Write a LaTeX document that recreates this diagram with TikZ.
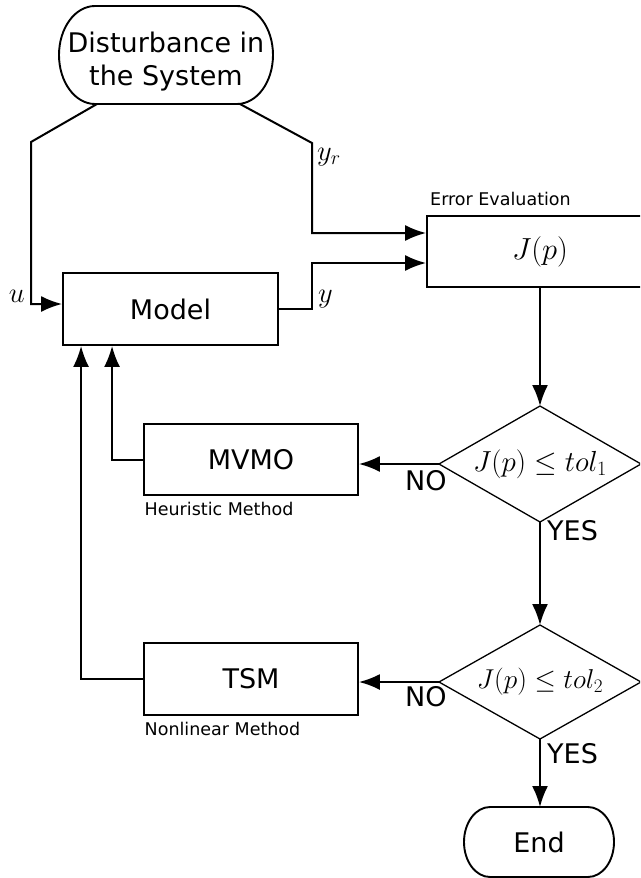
\RequirePackage{fix-cm}
\documentclass[tikz,border=0pt]{standalone}
\usepackage[no-math]{fontspec}
\setmainfont{DejaVu Sans}
\usetikzlibrary{arrows.meta,calc}
\begin{document}
\begin{tikzpicture}[x=1pt,y=-1pt,
  box/.style={draw, line width=1.9pt, minimum width=215pt, minimum height=72pt, inner sep=0pt, font=\fontsize{27}{33}\selectfont},
  hold/.style={inner sep=0pt, outer sep=0pt},
  outline/.style={line width=1.9pt},
  dline/.style={line width=1.3pt},
  conn/.style={line width=2pt, -{Latex[length=21pt,width=16pt]}},
  lbl/.style={inner sep=0pt, anchor=base west},
  bigtext/.style={font=\fontsize{27}{33}\selectfont},
  smalltext/.style={font=\fontsize{17.5}{21}\selectfont},
  mathlbl/.style={font=\fontsize{28.5}{34}\selectfont},
]
\useasboundingbox (0,0) rectangle (640,878);
\clip (0,0) rectangle (640,878);

% Disturbance (stadium)
\node[hold, minimum width=214pt, minimum height=98pt] (dist) at (166,55) {};
\draw[outline] ([xshift=36pt]dist.north west) -- ([xshift=-36pt]dist.north east)
  arc[start angle=90, end angle=-90, x radius=36pt, y radius=49pt]
  -- ([xshift=36pt]dist.south west)
  arc[start angle=270, end angle=90, x radius=36pt, y radius=49pt] -- cycle;
\node[lbl, anchor=base, bigtext] (dt1) at (166,52) {Disturbance in};
\node[lbl, anchor=base, bigtext] (dt2) at (166,85) {the System};

% Boxes
\node[box] (model) at (170.5,309) {Model};
\node[box, minimum width=226pt, minimum height=71pt, font=\fontsize{30.5}{36}\selectfont] (jp) at (540,251.5) {$J(p)$};
\node[box, minimum width=214pt, minimum height=71pt] (mvmo) at (251,459.5) {MVMO};
\node[box, minimum width=214pt, minimum height=72pt] (tsm) at (251,679) {TSM};

% Diamonds
\node[hold, minimum width=202pt, minimum height=116pt, font=\fontsize{29}{35}\selectfont] (d1) at (540,464) {$J(p)\le tol_1$};
\draw[dline] (d1.north) -- (d1.east) -- (d1.south) -- (d1.west) -- cycle;
\node[hold, minimum width=202pt, minimum height=114pt, font=\fontsize{27.3}{33}\selectfont] (d2) at (540,682) {$J(p)\le tol_2$};
\draw[dline] (d2.north) -- (d2.east) -- (d2.south) -- (d2.west) -- cycle;

% End (stadium)
\node[hold, minimum width=150pt, minimum height=70pt, bigtext] (end) at (539,842) {End};
\draw[outline] ([xshift=26pt]end.north west) -- ([xshift=-26pt]end.north east)
  arc[start angle=90, end angle=-90, x radius=26pt, y radius=35pt]
  -- ([xshift=26pt]end.south west)
  arc[start angle=270, end angle=90, x radius=26pt, y radius=35pt] -- cycle;

% Connectors
\draw[conn] ([xshift=-69pt]dist.south) -- (31,142) -- (31,304) -- ($(model.west)+(0,-5)$);
\draw[conn] ([xshift=74pt]dist.south) -- (312,143) -- (312,233) -- ($(jp.west)+(0,-18.5)$);
\draw[conn] (model.east) -| (312,263) -- ($(jp.west)+(0,11.5)$);
\draw[conn] (jp.south) -- (d1.north);
\draw[conn] (d1.west) -- (d1.west -| mvmo.east);
\draw[conn] (mvmo.west) -| ([xshift=50pt]model.south west);
\draw[conn] (d1.south) -- (d2.north);
\draw[conn] (d2.west) -- (d2.west -| tsm.east);
\draw[conn] (tsm.west) -| ([xshift=19pt]model.south west);
\draw[conn] (d2.south) -- (d2.south |- end.north);

% Labels
\node[lbl, anchor=base east, mathlbl] (ulbl) at (25,302) {$u$};
\node[lbl, mathlbl] (yrlbl) at (317,160) {$y_r$};
\node[lbl, mathlbl] (ylbl) at (318,302) {$y$};
\node[lbl, smalltext] (errlbl) at (430,205) {Error Evaluation};
\node[lbl, smalltext] (heur) at (144.5,515.7) {Heuristic Method};
\node[lbl, smalltext] (nonl) at (144.5,735) {Nonlinear Method};
\node[lbl, bigtext] (no1) at (405,490) {NO};
\node[lbl, bigtext] (no2) at (405,706) {NO};
\node[lbl, bigtext] (yes1) at (547,540) {YES};
\node[lbl, bigtext] (yes2) at (547,763) {YES};
\end{tikzpicture}
\end{document}
